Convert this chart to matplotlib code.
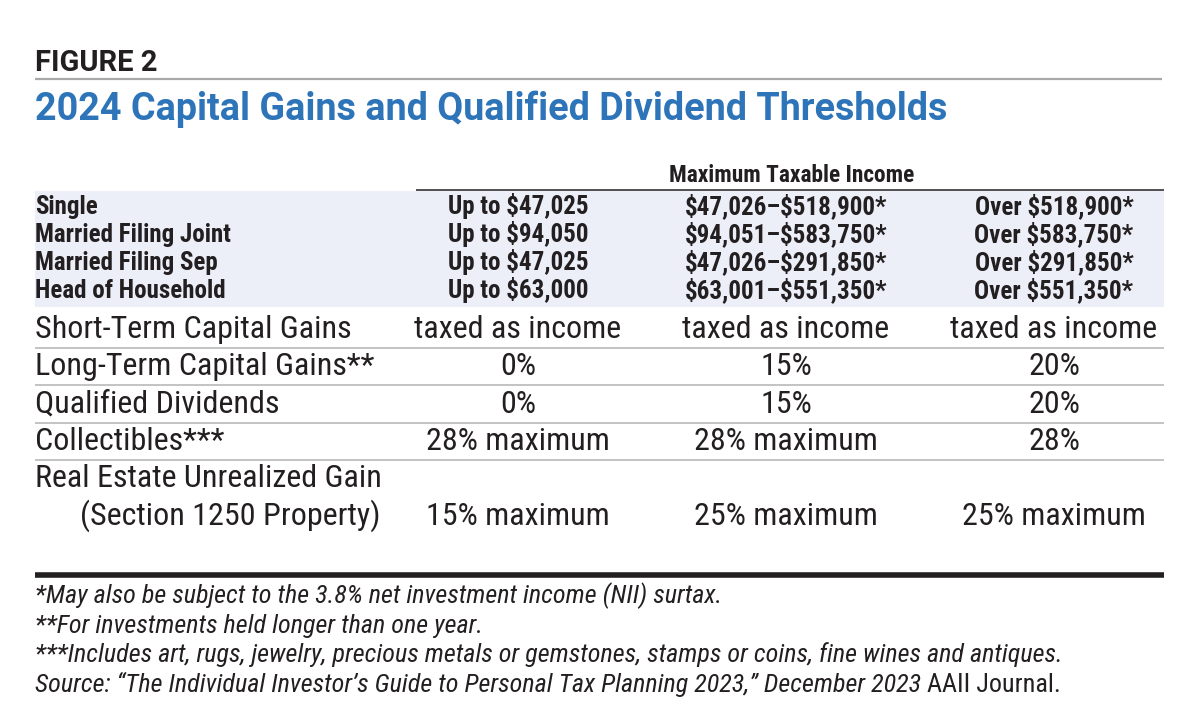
import matplotlib
matplotlib.use("Agg")
from matplotlib import pyplot as plt

plt.rcParams["text.parse_math"] = False

# Table content
filing_status = ["Single", "Married Filing Joint", "Married Filing Sep", "Head of Household"]
bracket_low = ["Up to $47,025", "Up to $94,050", "Up to $47,025", "Up to $63,000"]
bracket_mid = ["$47,026\u2013$518,900*", "$94,051\u2013$583,750*", "$47,026\u2013$291,850*", "$63,001\u2013$551,350*"]
bracket_high = ["Over $518,900*", "Over $583,750*", "Over $291,850*", "Over $551,350*"]

income_types = ["Short-Term Capital Gains", "Long-Term Capital Gains**", "Qualified Dividends",
                "Collectibles***", "Real Estate Unrealized Gain"]
rate_low = ["taxed as income", "0%", "0%", "28% maximum", "15% maximum"]
rate_mid = ["taxed as income", "15%", "15%", "28% maximum", "25% maximum"]
rate_high = ["taxed as income", "20%", "20%", "28%", "25% maximum"]

footnotes = [
    "*May also be subject to the 3.8% net investment income (NII) surtax.",
    "**For investments held longer than one year.",
    "***Includes art, rugs, jewelry, precious metals or gemstones, stamps or coins, fine wines and antiques.",
]
source_text = "Source: \u201cThe Individual Investor\u2019s Guide to Personal Tax Planning 2023,\u201d December 2023 "
source_journal = "AAII Journal."

dark = "#231f20"
blue = "#2d74b8"
band = "#eceef8"
cond = "Roboto Condensed"

fig = plt.figure(figsize=(12, 7.26), dpi=100)
ax = fig.add_axes([0, 0, 1, 1])
ax.set_xlim(0, 1200)
ax.set_ylim(726, 0)
ax.axis("off")

left, right = 35, 1164
col_x = [518, 786, 1054]

# header
ax.text(left, 71, "FIGURE 2", family="Roboto", weight="bold", fontsize=21, color=dark)
ax.plot([left, right - 2], [79, 79], color="#a9a9a9", lw=1.6, solid_capstyle="butt")
ax.text(left, 120, "2024 Capital Gains and Qualified Dividend Thresholds", family="Roboto",
        weight="bold", fontsize=27.2, color=blue)

# column header
ax.text(792, 182, "Maximum Taxable Income", family=cond, weight="bold", fontsize=16.8,
        color=dark, ha="center")
ax.plot([416, right], [189.5, 189.5], color=dark, lw=1.1, solid_capstyle="butt")

# filing status band
ax.fill_between([left, right], 191, 307, color=band, lw=0)
y0, dy = 214, 28
for i, name in enumerate(filing_status):
    y = y0 + i * dy
    ax.text(left, y, name, family=cond, weight="bold", fontsize=18, color=dark)
    for cx, vals in zip(col_x, [bracket_low, bracket_mid, bracket_high]):
        ax.text(cx, y, vals[i], family=cond, weight="bold", fontsize=18, color=dark, ha="center")

# rates
r0, rdy = 338, 37.3
for i, name in enumerate(income_types):
    y = r0 + i * rdy
    ax.text(left, y, name, family=cond, fontsize=23, color=dark)
    vy = y if i < len(income_types) - 1 else y + 37.5
    for cx, vals in zip(col_x, [rate_low, rate_mid, rate_high]):
        ax.text(cx, vy, vals[i], family=cond, fontsize=23, color=dark, ha="center")
    if i < len(income_types) - 1:
        ax.plot([left, right], [y + 10, y + 10], color="#c3c3c3", lw=1.4, solid_capstyle="butt")
ax.text(380, r0 + 4 * rdy + 37.5, "(Section 1250 Property)", family=cond, fontsize=23,
        color=dark, ha="right")

ax.plot([left, right], [574.5, 574.5], color=dark, lw=4.0, solid_capstyle="butt")

# footnotes
f0, fdy = 603, 29.7
for i, note in enumerate(footnotes):
    ax.text(left, f0 + i * fdy, note, family=cond, style="italic", fontsize=18.8, color=dark)
t = ax.text(left, f0 + 3 * fdy, source_text, family=cond, style="italic", fontsize=18.8, color=dark)
ax.annotate(source_journal, xy=(1, 0), xycoords=t, va="bottom", family=cond,
            fontsize=18.8, color=dark)

fig.savefig("out.png", dpi=100)
